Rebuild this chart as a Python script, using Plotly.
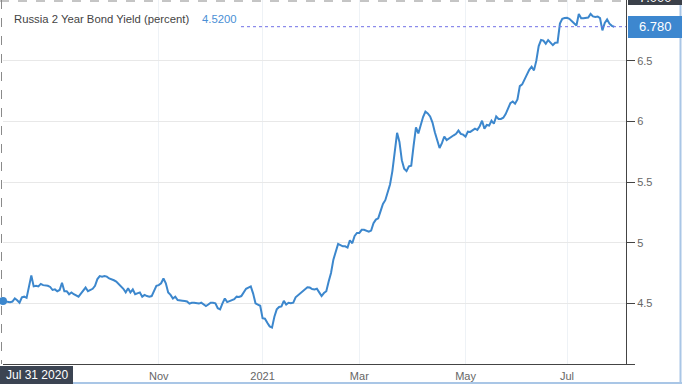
import pandas as pd
import plotly.graph_objects as go

# ---- data (Russia 2 Year Bond Yield, percent, one value per trading day) ----
start_date = "2020-07-31"
values = [
    4.52, 4.515, 4.51, 4.51, 4.515, 4.54, 4.525, 4.505, 4.55, 4.555,
    4.545, 4.63, 4.73, 4.64, 4.645, 4.64, 4.66, 4.65, 4.65, 4.645,
    4.635, 4.61, 4.615, 4.60, 4.61, 4.67, 4.60, 4.60, 4.575, 4.59,
    4.575, 4.565, 4.555, 4.58, 4.61, 4.63, 4.60, 4.61, 4.62, 4.645,
    4.70, 4.725, 4.72, 4.725, 4.72, 4.705, 4.70, 4.69, 4.68, 4.66,
    4.64, 4.62, 4.59, 4.625, 4.59, 4.615, 4.575, 4.58, 4.59, 4.555,
    4.57, 4.56, 4.555, 4.56, 4.60, 4.645, 4.65, 4.665, 4.705, 4.665,
    4.59, 4.57, 4.54, 4.555, 4.527, 4.527, 4.522, 4.52, 4.515, 4.497,
    4.505, 4.505, 4.50, 4.498, 4.505, 4.49, 4.478, 4.49, 4.505, 4.505,
    4.50, 4.46, 4.45, 4.50, 4.54, 4.51, 4.52, 4.53, 4.535, 4.555,
    4.553, 4.56, 4.59, 4.62, 4.63, 4.64, 4.58, 4.50, 4.49, 4.48,
    4.378, 4.373, 4.34, 4.31, 4.30, 4.39, 4.45, 4.47, 4.475, 4.52,
    4.49, 4.505, 4.50, 4.505, 4.55, 4.565, 4.58, 4.60, 4.615, 4.632,
    4.63, 4.618, 4.615, 4.62, 4.59, 4.56, 4.585, 4.60, 4.68, 4.75,
    4.86, 4.935, 4.99, 4.98, 4.97, 4.97, 4.96, 5.02, 4.995, 5.055,
    5.08, 5.08, 5.106, 5.106, 5.10, 5.09, 5.10, 5.16, 5.19, 5.20,
    5.26, 5.32, 5.35, 5.41, 5.48, 5.59, 5.75, 5.905, 5.83, 5.68,
    5.61, 5.59, 5.63, 5.635, 5.80, 5.95, 5.90, 5.98, 6.035, 6.08,
    6.065, 6.04, 5.99, 5.91, 5.845, 5.78, 5.82, 5.875, 5.845, 5.86,
    5.87, 5.885, 5.897, 5.924, 5.897, 5.89, 5.873, 5.915, 5.913, 5.925,
    5.94, 5.93, 5.96, 6.005, 5.94, 5.97, 5.965, 6.005, 5.98, 6.04,
    6.02, 6.02, 6.03, 6.06, 6.11, 6.15, 6.164, 6.145, 6.18, 6.29,
    6.305, 6.34, 6.385, 6.425, 6.45, 6.42, 6.50, 6.62, 6.67, 6.665,
    6.64, 6.67, 6.65, 6.628, 6.648, 6.65, 6.805, 6.845, 6.852, 6.853,
    6.845, 6.825, 6.805, 6.79, 6.885, 6.85, 6.85, 6.85, 6.855, 6.885,
    6.865, 6.861, 6.864, 6.85, 6.75, 6.81, 6.84, 6.805, 6.787, 6.78,
]
dates = pd.bdate_range(start_date, periods=len(values))

series_name = "Russia 2 Year Bond Yield (percent)"
x_tick_vals = ["2020-11-02", "2021-01-01", "2021-03-01", "2021-05-03", "2021-07-01"]
x_tick_text = ["Nov", "2021", "Mar", "May", "Jul"]
y_tick_vals = [4.0, 4.5, 5.0, 5.5, 6.0, 6.5]
y_tick_text = ["", "4.5", "5", "5.5", "6", "6.5"]
y_top_label = "7.000"
x_range = ["2020-07-31", "2021-08-05"]
y_range = [4.0, 7.0]

# ---- layout helpers (pixel -> paper) ----
W, H = 682, 384
ML, MR, MT, MB = 3, 56, 0, 20
PW, PH = W - ML - MR, H - MT - MB


def px(x):
    return (x - ML) / PW


def py(y):
    return (H - MB - y) / PH


LINE = "#3c87cd"
FONT = "Arial, Liberation Sans, sans-serif"

fig = go.Figure()
fig.add_trace(go.Scatter(x=dates, y=values, mode="lines",
                         line=dict(color=LINE, width=2), hoverinfo="skip"))
fig.add_trace(go.Scatter(x=[dates[0]], y=[values[0]], mode="markers",
                         marker=dict(color=LINE, size=8), cliponaxis=False,
                         hoverinfo="skip"))

shapes = [
    # last-value dotted guide
    dict(type="line", xref="paper", yref="y", x0=px(241), x1=1,
         y0=values[-1], y1=values[-1],
         line=dict(color="#7070e6", width=1, dash="dot")),
    # crosshair frame (top / left dashed)
    dict(type="line", xref="paper", yref="paper", x0=px(0), x1=px(627),
         y0=py(1), y1=py(1), line=dict(color="#8a8a8a", width=1, dash="dash")),
    dict(type="line", xref="paper", yref="paper", x0=px(1.5), x1=px(1.5),
         y0=py(0), y1=py(364), line=dict(color="#8a8a8a", width=1, dash="dash")),
    # light blue outer border right/bottom
    dict(type="line", xref="paper", yref="paper", x0=px(680.5), x1=px(680.5),
         y0=py(0), y1=py(384), line=dict(color="#a9c6e6", width=2)),
    dict(type="line", xref="paper", yref="paper", x0=px(0), x1=px(682),
         y0=py(383), y1=py(383), line=dict(color="#a9c6e6", width=2)),
    # label boxes
    dict(type="rect", xref="paper", yref="paper", x0=px(628), x1=px(682),
         y0=py(38), y1=py(16), fillcolor="#3d87cf", line=dict(width=0)),
    dict(type="rect", xref="paper", yref="paper", x0=px(628), x1=px(682),
         y0=py(5), y1=py(-20), fillcolor="#3b4049", line=dict(width=0)),
    dict(type="rect", xref="paper", yref="paper", x0=px(0), x1=px(73),
         y0=py(384), y1=py(366), fillcolor="#3b4452", line=dict(width=0)),
]

annotations = [
    dict(x=px(12), y=py(19), xref="paper", yref="paper", xanchor="left",
         yanchor="middle", showarrow=False, text=series_name,
         font=dict(family=FONT, size=11.3, color="#444444")),
    dict(x=px(200), y=py(19), xref="paper", yref="paper", xanchor="left",
         yanchor="middle", showarrow=False, text=f"{values[0]:.4f}",
         font=dict(family=FONT, size=11.3, color="#4a8fd5")),
    dict(x=px(655), y=py(27), xref="paper", yref="paper", xanchor="center",
         yanchor="middle", showarrow=False, text=f"{values[-1]:.3f}",
         font=dict(family=FONT, size=13, color="white")),
    dict(x=px(655), y=py(-3), xref="paper", yref="paper", xanchor="center",
         yanchor="middle", showarrow=False, text=y_top_label,
         font=dict(family=FONT, size=13, color="white")),
    dict(x=px(37), y=py(375.5), xref="paper", yref="paper", xanchor="center",
         yanchor="middle", showarrow=False,
         text=dates[0].strftime("%b %d %Y").replace(" 0", " "),
         font=dict(family=FONT, size=12, color="white")),
]

fig.update_layout(
    width=W, height=H,
    margin=dict(l=ML, r=MR, t=MT, b=MB, pad=0),
    paper_bgcolor="white", plot_bgcolor="white",
    showlegend=False,
    font=dict(family=FONT, color="#666666"),
    shapes=shapes, annotations=annotations,
    xaxis=dict(
        type="date", range=x_range,
        rangebreaks=[dict(bounds=["sat", "mon"])],
        tickvals=x_tick_vals, ticktext=x_tick_text,
        tickfont=dict(size=11, color="#666666"),
        ticklabelstandoff=2,
        showgrid=True, gridcolor="#eef2f6", gridwidth=1,
        showline=True, linecolor="#444444", linewidth=1,
        ticks="", zeroline=False, fixedrange=True,
    ),
    yaxis=dict(
        range=y_range, side="right",
        tickvals=y_tick_vals, ticktext=y_tick_text,
        tickfont=dict(size=11, color="#666666"),
        showgrid=True, gridcolor="#e8e8e8", gridwidth=1,
        showline=True, linecolor="#444444", linewidth=1,
        ticks="outside", ticklen=8, tickcolor="#444444",
        zeroline=False, fixedrange=True,
    ),
)

fig.write_html(
    "out.html",
    config={"displayModeBar": False},
    post_script="document.body.style.margin='0';document.body.style.overflow='hidden';",
)
